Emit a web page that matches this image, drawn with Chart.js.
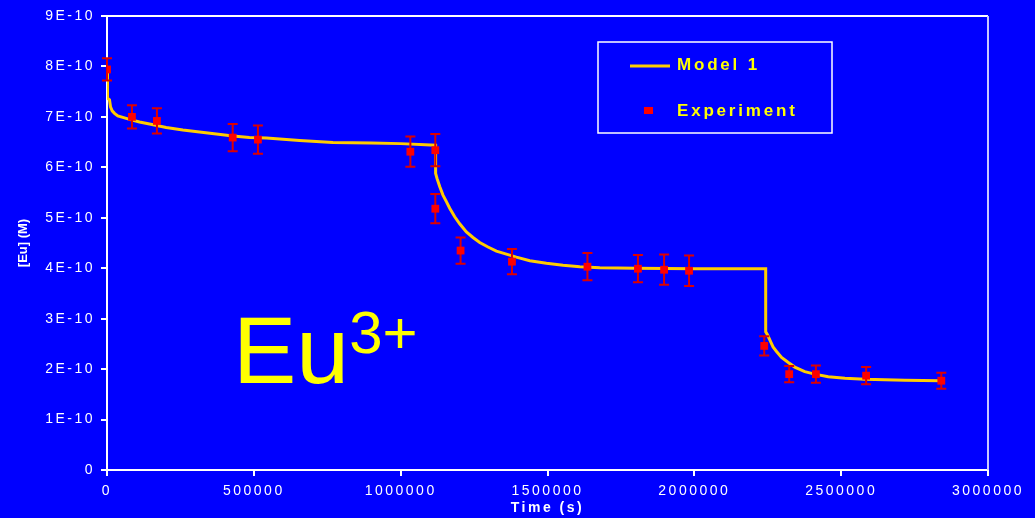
<!DOCTYPE html>
<html>
<head>
<meta charset="utf-8">
<script src="https://cdn.jsdelivr.net/npm/chart.js@4.4.1/dist/chart.umd.min.js"></script>
<style>
  html, body { margin: 0; padding: 0; background: #0000FF; }
  #wrap { width: 1035px; height: 518px; }
</style>
</head>
<body>
<div id="wrap"><canvas id="euChart"></canvas></div>
<script>
// valores en unidades de 1E-10 M
const expTime = [0, 85000, 170000, 428000, 514000, 1033000, 1118000, 1118000, 1204000, 1379000,
                 1636000, 1808000, 1897000, 1982000, 2238000, 2323000, 2414000, 2585000, 2841000];
const expConc = [7.94, 7.00, 6.92, 6.59, 6.55, 6.31, 6.34, 5.18, 4.35, 4.13,
                 4.03, 3.99, 3.97, 3.95, 2.46, 1.90, 1.90, 1.87, 1.77];
const expErr  = [0.22, 0.23, 0.25, 0.27, 0.28, 0.30, 0.32, 0.29, 0.26, 0.25,
                 0.27, 0.27, 0.30, 0.30, 0.19, 0.16, 0.17, 0.17, 0.16];

const modelTime = [0, 1700, 8500, 11900, 17700, 25600, 36800, 53800, 76700, 110700,
                   144800, 201700, 258300, 315000, 372000, 428600, 485000, 543000, 656000, 769000,
                   900000, 1000000, 1119000, 1119000, 1123700, 1132900, 1144100, 1155700, 1167000, 1184000,
                   1201000, 1223800, 1246300, 1269200, 1297400, 1326000, 1360000, 1394000, 1439700, 1496400,
                   1553000, 1610000, 1678000, 1800000, 2000000, 2243000, 2243000, 2249000, 2257000, 2268000,
                   2280000, 2297000, 2320000, 2342000, 2376000, 2410000, 2456000, 2513000, 2581000, 2717000,
                   2838000];
const modelConc = [7.90, 7.37, 7.34, 7.20, 7.12, 7.07, 7.02, 6.99, 6.95, 6.90,
                   6.86, 6.79, 6.74, 6.70, 6.66, 6.62, 6.59, 6.58, 6.53, 6.49,
                   6.48, 6.47, 6.44, 5.88, 5.78, 5.62, 5.45, 5.32, 5.19, 5.02,
                   4.88, 4.72, 4.61, 4.51, 4.42, 4.34, 4.28, 4.22, 4.15, 4.10,
                   4.06, 4.03, 4.01, 4.00, 3.99, 3.99, 2.74, 2.68, 2.58, 2.44,
                   2.35, 2.23, 2.13, 2.04, 1.95, 1.90, 1.85, 1.82, 1.80, 1.78,
                   1.77];

const xTicks = [0, 500000, 1000000, 1500000, 2000000, 2500000, 3000000];
const yTicks = [0, 1, 2, 3, 4, 5, 6, 7, 8, 9];

const FONT = "'Liberation Sans', Arial, sans-serif";

// barras de error, antes de los marcadores
const errorBars = {
    id: 'errorBars',
    beforeDatasetDraw(chart, args) {
        if (args.index !== 1) return;
        const ctx = chart.ctx;
        const xs = chart.scales.x, ys = chart.scales.y;
        ctx.save();
        ctx.strokeStyle = '#DD0000';
        ctx.lineWidth = 2;
        expTime.forEach((t, i) => {
            const px = xs.getPixelForValue(t);
            const top = ys.getPixelForValue(expConc[i] + expErr[i]);
            const bot = ys.getPixelForValue(expConc[i] - expErr[i]);
            ctx.beginPath();
            ctx.moveTo(px, top); ctx.lineTo(px, bot);
            ctx.moveTo(px - 5, top); ctx.lineTo(px + 5, top);
            ctx.moveTo(px - 5, bot); ctx.lineTo(px + 5, bot);
            ctx.stroke();
        });
        ctx.restore();
    }
};

// texto horizontal estirado como en el original
const spacing = {
    id: 'spacing',
    beforeDraw(chart) { chart.ctx.letterSpacing = '2.5px'; },
    afterDraw(chart) { chart.ctx.letterSpacing = '0px'; }
};

// marco, leyenda, título del eje y y etiqueta Eu3+
const extras = {
    id: 'extras',
    afterDraw(chart) {
        const ctx = chart.ctx;
        const a = chart.chartArea;
        ctx.save();
        ctx.lineWidth = 2;
        ctx.strokeStyle = '#FFFFFF';
        ctx.beginPath();
        ctx.moveTo(a.left, a.top); ctx.lineTo(a.right, a.top);
        ctx.stroke();
        ctx.strokeStyle = '#C8C8FF';
        ctx.beginPath();
        ctx.moveTo(a.right, a.top); ctx.lineTo(a.right, a.bottom);
        ctx.stroke();

        // título vertical sin espaciado
        ctx.letterSpacing = '0px';
        ctx.save();
        ctx.translate(23, (a.top + a.bottom) / 2);
        ctx.rotate(-Math.PI / 2);
        ctx.fillStyle = '#FFFFFF';
        ctx.font = 'bold 13px ' + FONT;
        ctx.textAlign = 'center';
        ctx.textBaseline = 'middle';
        ctx.fillText('[Eu] (M)', 0, 0);
        ctx.restore();

        // leyenda
        ctx.lineWidth = 1.5;
        ctx.strokeStyle = '#FFFFFF';
        ctx.strokeRect(598, 42, 234, 91);
        ctx.strokeStyle = '#FFCC00';
        ctx.lineWidth = 3;
        ctx.beginPath();
        ctx.moveTo(630, 66); ctx.lineTo(670, 66);
        ctx.stroke();
        ctx.fillStyle = '#FF0000';
        ctx.fillRect(644, 107, 9, 7);
        ctx.fillStyle = '#FFFF00';
        ctx.font = 'bold 17px ' + FONT;
        ctx.textBaseline = 'middle';
        ctx.letterSpacing = '2.8px';
        ctx.fillText('Model 1', 677, 65);
        ctx.fillText('Experiment', 677, 111);

        // Eu3+
        ctx.letterSpacing = '0px';
        ctx.textBaseline = 'alphabetic';
        ctx.font = '95px ' + FONT;
        ctx.fillText('Eu', 233, 383);
        const w = ctx.measureText('Eu').width;
        ctx.font = '60px ' + FONT;
        ctx.fillText('3+', 233 + w, 353);
        ctx.restore();
    }
};

new Chart(document.getElementById('euChart'), {
    type: 'scatter',
    data: {
        datasets: [
            {
                label: 'Model 1',
                data: modelTime.map((t, i) => ({ x: t, y: modelConc[i] })),
                showLine: true,
                borderColor: '#FFCC00',
                borderWidth: 3,
                pointRadius: 0,
                tension: 0,
                order: 1
            },
            {
                label: 'Experiment',
                data: expTime.map((t, i) => ({ x: t, y: expConc[i] })),
                pointStyle: 'rect',
                pointRadius: 5.5,
                backgroundColor: '#FF0000',
                borderColor: '#FF0000',
                borderWidth: 0,
                order: 0
            }
        ]
    },
    options: {
        responsive: true,
        maintainAspectRatio: false,
        animation: false,
        layout: { padding: { left: 0, top: 16, right: 47, bottom: 0 } },
        plugins: {
            legend: { display: false },
            tooltip: { enabled: false }
        },
        scales: {
            x: {
                type: 'linear',
                min: 0,
                max: 3000000,
                afterBuildTicks: (s) => { s.ticks = xTicks.map(v => ({ value: v })); },
                afterFit: (s) => { s.height = 48; },
                ticks: {
                    color: '#FFFFFF',
                    padding: 7,
                    maxRotation: 0,
                    font: { family: FONT, size: 14 },
                    callback: (v) => String(v)
                },
                grid: { drawOnChartArea: false, drawTicks: true, tickLength: 6, color: '#FFFFFF', lineWidth: 2 },
                border: { color: '#FFFFFF', width: 2 },
                title: {
                    display: true,
                    text: 'Time (s)',
                    color: '#FFFFFF',
                    padding: { top: 0, bottom: 1 },
                    font: { family: FONT, size: 14, weight: 'bold' }
                }
            },
            y: {
                min: 0,
                max: 9,
                afterBuildTicks: (s) => { s.ticks = yTicks.map(v => ({ value: v })); },
                afterFit: (s) => { s.width = 107; },
                ticks: {
                    color: '#FFFFFF',
                    padding: 6,
                    font: { family: FONT, size: 14 },
                    callback: (v) => v === 0 ? '0' : v + 'E-10'
                },
                grid: { drawOnChartArea: false, drawTicks: true, tickLength: 6, color: '#FFFFFF', lineWidth: 2 },
                border: { color: '#FFFFFF', width: 2 },
                title: { display: false }
            }
        }
    },
    plugins: [spacing, errorBars, extras]
});
</script>
</body>
</html>
